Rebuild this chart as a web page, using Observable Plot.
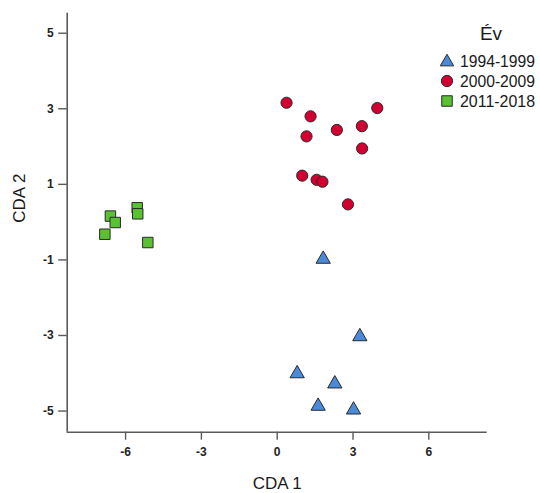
<!DOCTYPE html>
<html>
<head>
<meta charset="utf-8">
<script src="https://cdn.jsdelivr.net/npm/d3@7"></script>
<script src="https://cdn.jsdelivr.net/npm/@observablehq/plot@0.6"></script>
<style>
  html, body { margin: 0; padding: 0; background: #fff; }
  #wrap { position: relative; width: 540px; height: 493px; font-family: "Liberation Sans", Arial, sans-serif; }
  #legend { position: absolute; left: 0; top: 0; width: 540px; height: 120px; pointer-events: none; }
</style>
</head>
<body>
<div id="wrap"></div>
<script>
// Categories
const groups = ["1994-1999", "2000-2009", "2011-2018"];
const groupColors = ["#4a8ad8", "#d20030", "#5ac133"];
const groupSymbols = ["triangle", "circle", "square"];

// Series values: CDA 1 (x), CDA 2 (y)
const x1994 = [1.82, 3.27, 0.79, 2.28, 1.62, 3.02];
const y1994 = [-0.98, -3.03, -4.01, -4.28, -4.87, -4.97];

const x2000 = [0.37, 1.32, 1.16, 2.36, 3.35, 3.96, 3.36, 0.99, 1.56, 1.79, 2.80];
const y2000 = [3.16, 2.80, 2.27, 2.44, 2.54, 3.02, 1.95, 1.23, 1.12, 1.07, 0.47];

const x2011 = [-6.60, -6.41, -6.82, -5.54, -5.52, -5.12];
const y2011 = [0.16, -0.01, -0.32, 0.38, 0.22, -0.54];

// Tick labels
const xTicks = [-6, -3, 0, 3, 6];
const yTicks = [-5, -3, -1, 1, 3, 5];
const xDomain = [-8.31, 8.31];
const yDomain = [-5.56, 5.53];

const seriesX = [x1994, x2000, x2011];
const seriesY = [y1994, y2000, y2011];
const data = [];
groups.forEach((g, i) => seriesX[i].forEach((x, j) => data.push({group: g, x, y: seriesY[i][j]})));

const color = {domain: groups, range: groupColors};
const axisGray = "#5a5a5a";
const fmt = d => String(d);

const chart = Plot.plot({
  width: 540,
  height: 493,
  marginLeft: 66.7,
  marginRight: 53.3,
  marginTop: 12.7,
  marginBottom: 61.3,
  style: {fontFamily: "'Liberation Sans', Arial, sans-serif", background: "#fff", color: "#222"},
  x: {domain: xDomain},
  y: {domain: yDomain},
  color: color,
  symbol: {domain: groups, range: groupSymbols},
  marks: [
    Plot.ruleX([xDomain[0]], {stroke: axisGray, strokeWidth: 1.6}),
    Plot.ruleY([yDomain[0]], {stroke: axisGray, strokeWidth: 1.6}),
    Plot.axisX({ticks: xTicks, tickFormat: fmt, tickSize: 8, tickPadding: 7, fontSize: 12, fontWeight: "bold", label: null, stroke: axisGray, strokeWidth: 1.4, fill: "#222"}),
    Plot.axisY({ticks: yTicks, tickFormat: fmt, tickSize: 8.5, tickPadding: 5, fontSize: 12, fontWeight: "bold", label: null, stroke: axisGray, strokeWidth: 1.4, fill: "#222"}),
    Plot.text(["CDA 1"], {frameAnchor: "bottom", dy: 57, fontSize: 17, fill: "#1a1a1a"}),
    Plot.text(["CDA 2"], {frameAnchor: "left", dx: -48, rotate: -90, fontSize: 17, fill: "#1a1a1a"}),
    Plot.dot(data.filter(d => d.group === groups[1]), {x: "x", y: "y", fill: "group", symbol: "group", r: 5.6, stroke: "#2a2a2a", strokeWidth: 1}),
    Plot.dot(data.filter(d => d.group === groups[2]), {x: "x", y: "y", fill: "group", symbol: "group", r: 5.9, stroke: "#2a2a2a", strokeWidth: 1}),
    Plot.dot(data.filter(d => d.group === groups[0]), {x: "x", y: "y", fill: "group", symbol: "group", r: 5.3, stroke: "#2a2a2a", strokeWidth: 1})
  ]
});

const wrap = document.getElementById("wrap");
wrap.appendChild(chart);

// Legend overlay (top right, inside chart)
const ns = "http://www.w3.org/2000/svg";
const leg = document.createElementNS(ns, "svg");
leg.setAttribute("id", "legend");
leg.setAttribute("width", 540);
leg.setAttribute("height", 120);
const title = document.createElementNS(ns, "text");
title.setAttribute("x", 480);
title.setAttribute("y", 40);
title.setAttribute("font-size", 18);
title.setAttribute("textLength", 22);
title.setAttribute("lengthAdjust", "spacingAndGlyphs");
title.setAttribute("fill", "#1a1a1a");
title.setAttribute("font-family", "Liberation Sans, Arial, sans-serif");
title.textContent = "Év";
leg.appendChild(title);
groups.forEach((g, i) => {
  const cy = 61 + i * 20;
  const sym = d3.symbol().type([d3.symbolTriangle, d3.symbolCircle, d3.symbolSquare][i]).size([78, 100, 110][i]);
  const p = document.createElementNS(ns, "path");
  p.setAttribute("d", sym());
  p.setAttribute("transform", `translate(447,${cy + (i === 0 ? 1 : 0)})`);
  p.setAttribute("fill", groupColors[i]);
  p.setAttribute("stroke", "#2a2a2a");
  p.setAttribute("stroke-width", 1);
  leg.appendChild(p);
  const t = document.createElementNS(ns, "text");
  t.setAttribute("x", 460);
  t.setAttribute("y", cy + 6);
  t.setAttribute("font-size", 16.5);
  t.setAttribute("textLength", 75);
  t.setAttribute("lengthAdjust", "spacingAndGlyphs");
  t.setAttribute("fill", "#1a1a1a");
  t.setAttribute("font-family", "Liberation Sans, Arial, sans-serif");
  t.textContent = g;
  leg.appendChild(t);
});
wrap.appendChild(leg);
</script>
</body>
</html>
